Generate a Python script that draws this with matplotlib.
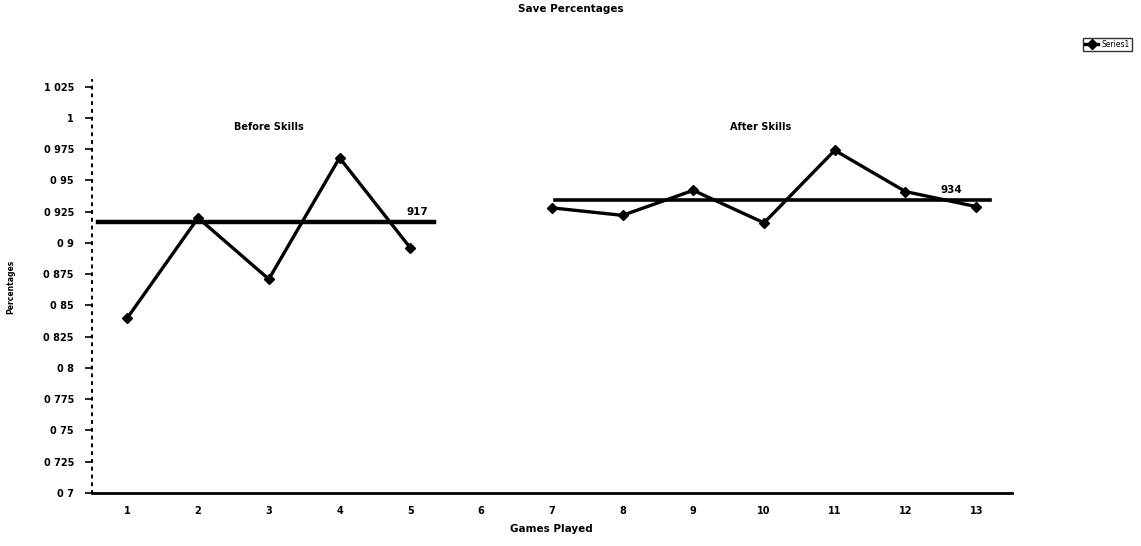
import matplotlib.pyplot as plt

# save percentage per game, before and after skills work (game 6 not played)
games_before = [1, 2, 3, 4, 5]
save_before = [0.840, 0.920, 0.871, 0.968, 0.896]
games_after = [7, 8, 9, 10, 11, 12, 13]
save_after = [0.928, 0.922, 0.942, 0.916, 0.974, 0.941, 0.929]

avg_before = 0.917
avg_after = 0.934

y_ticks = [0.7, 0.725, 0.75, 0.775, 0.8, 0.825, 0.85, 0.875, 0.9, 0.925,
           0.95, 0.975, 1.0, 1.025]
y_labels = ['0 7', '0 725', '0 75', '0 775', '0 8', '0 825', '0 85', '0 875',
            '0 9', '0 925', '0 95', '0 975', '1', '1 025']
x_ticks = list(range(1, 14))

fig = plt.figure(figsize=(11.41, 5.46), dpi=100)
ax = fig.add_axes([0.0806, 0.097, 0.806, 0.756])

# the two stretches of games are drawn as one series with a gap at game 6
games = games_before + [6] + games_after
saves = save_before + [float('nan')] + save_after
ax.plot(games, saves, color='black', lw=2.4, marker='D', markersize=5.5,
        label='Series1')

# average lines for each stretch
ax.plot([0.58, 5.33], [avg_before, avg_before], color='black', lw=3.2)
ax.plot([7.05, 13.2], [avg_after, avg_after], color='black', lw=2.6)
ax.text(5.1, avg_before + 0.004, '917', fontsize=7.5, fontweight='bold',
        ha='center', va='bottom')
ax.text(12.65, avg_after + 0.004, '934', fontsize=7.5, fontweight='bold',
        ha='center', va='bottom')

ax.text(3.0, 0.99, 'Before Skills', fontsize=7, fontweight='bold', ha='center')
ax.text(9.95, 0.99, 'After Skills', fontsize=7, fontweight='bold', ha='center')

ax.set_xlim(0.5, 13.5)
ax.set_ylim(0.7, 1.03)
ax.set_yticks(y_ticks)
ax.set_yticklabels(y_labels)
ax.set_xticks(x_ticks)
ax.tick_params(axis='y', length=5, width=1.2, labelsize=7, pad=8)
ax.tick_params(axis='x', length=0, labelsize=7, pad=9)
for lab in ax.get_xticklabels() + ax.get_yticklabels():
    lab.set_fontweight('bold')

for side in ['top', 'right']:
    ax.spines[side].set_visible(False)
ax.spines['left'].set_linestyle((0, (1, 3)))
ax.spines['left'].set_linewidth(1.4)
ax.spines['bottom'].set_linewidth(2)

ax.set_xlabel('Games Played', fontsize=7.5, fontweight='bold', labelpad=6)
ax.set_ylabel('Percentages', fontsize=5.5, fontweight='bold', labelpad=20)

fig.suptitle('Save Percentages', fontsize=7.5, fontweight='bold', y=0.992)

fig.legend(loc='upper left', bbox_to_anchor=(0.949, 0.93), fontsize=5.5,
           frameon=True, edgecolor='black', fancybox=False, handlelength=1.8,
           handletextpad=0.4, borderpad=0.25, borderaxespad=0)

fig.savefig('out.png', dpi=100)
